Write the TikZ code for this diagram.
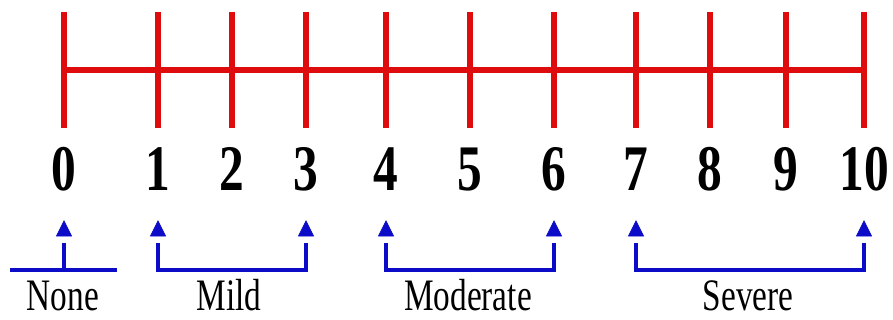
\documentclass[tikz,border=0pt]{standalone}
\usepackage{fontspec}
\setmainfont{Liberation Serif}
\definecolor{scalered}{RGB}{222,12,12}
\definecolor{scaleblue}{RGB}{12,12,200}
\begin{document}
\begin{tikzpicture}[x=1pt,y=-1pt,
  axisline/.style={scalered,line width=6pt},
  tickline/.style={scalered,line width=6pt},
  num/.style={anchor=base,inner sep=0pt,font=\fontsize{65}{65}\selectfont\bfseries},
  lab/.style={anchor=base,inner sep=0pt,font=\fontsize{45}{45}\selectfont},
  bracketline/.style={scaleblue,line width=4pt,line join=miter},
  pointerhead/.style={scaleblue,fill=scaleblue,line width=0.8pt,line join=miter}
]
\useasboundingbox (0,0) rectangle (893,320);
% tick positions
\foreach \n/\x in {0/64,1/158,2/232,3/306,4/386,5/470,6/554,7/636,8/710,9/786,10/864}{
  \coordinate (top\n) at (\x,12);
  \coordinate (mid\n) at (\x,70);
  \coordinate (bot\n) at (\x,128);
  \coordinate (tip\n) at (\x,221);
  \coordinate (stem\n) at (\x,243);
  \coordinate (foot\n) at (\x,270);
  \draw[tickline] (top\n) -- (bot\n);
  \node[num] (num\n) at (\x,191) {\scalebox{0.76}[1]{\n}};
}
\draw[axisline] (mid0) -- (mid10);
% arrow heads
\foreach \n in {0,1,3,4,6,7,10}{
  \draw[pointerhead] (tip\n) -- ++(-7.5,15) -- ++(15,0) -- cycle;
}
% None
\coordinate (noneL) at (10,270);
\coordinate (noneR) at (117,270);
\draw[bracketline] (noneL) -- (noneR);
\draw[bracketline] (stem0) -- (foot0);
% Mild
\draw[bracketline] (stem1) -- (foot1) -- (foot3) -- (stem3);
% Moderate
\draw[bracketline] (stem4) -- (foot4) -- (foot6) -- (stem6);
% Severe
\draw[bracketline] (stem7) -- (foot7) -- (foot10) -- (stem10);
% labels
\node[lab] (none) at (63,310) {\scalebox{0.74}[1]{None}};
\node[lab] (mild) at (229,310) {\scalebox{0.74}[1]{Mild}};
\node[lab] (moderate) at (468,310) {\scalebox{0.74}[1]{Moderate}};
\node[lab] (severe) at (748,310) {\scalebox{0.74}[1]{Severe}};
\end{tikzpicture}
\end{document}
